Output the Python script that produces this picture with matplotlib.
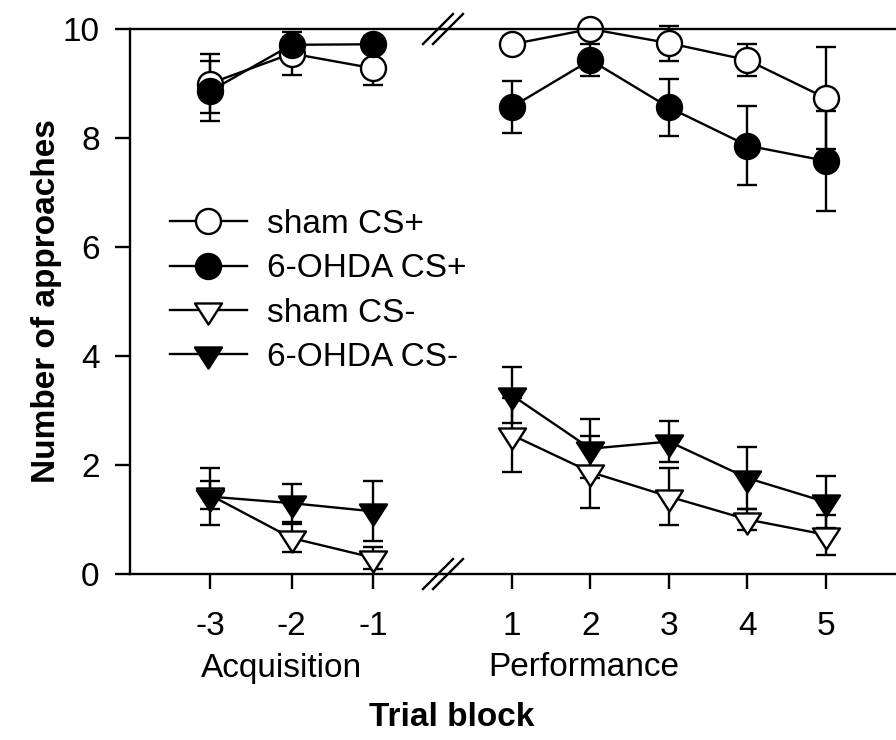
import matplotlib
matplotlib.use('Agg')
import matplotlib.pyplot as plt
from matplotlib.lines import Line2D
from matplotlib.path import Path


# 数据（从原图上读出来的）
acq_blocks = [-3, -2, -1]
perf_blocks = [1, 2, 3, 4, 5]

sham_cs_plus_acq = [9.0, 9.55, 9.28]
sham_cs_plus_acq_err = [0.54, 0.4, 0.3]
ohda_cs_plus_acq = [8.86, 9.71, 9.72]
ohda_cs_plus_acq_err = [0.55, 0.15, 0.15]
sham_cs_minus_acq = [1.45, 0.66, 0.3]
sham_cs_minus_acq_err = [0.25, 0.25, 0.2]
ohda_cs_minus_acq = [1.42, 1.3, 1.15]
ohda_cs_minus_acq_err = [0.53, 0.35, 0.55]

sham_cs_plus_perf = [9.72, 10.0, 9.74, 9.43, 8.73]
sham_cs_plus_perf_err = [0.15, 0.1, 0.32, 0.29, 0.94]
ohda_cs_plus_perf = [8.57, 9.43, 8.56, 7.86, 7.58]
ohda_cs_plus_perf_err = [0.47, 0.3, 0.52, 0.73, 0.92]
sham_cs_minus_perf = [2.55, 1.87, 1.42, 1.0, 0.72]
sham_cs_minus_perf_err = [0.68, 0.66, 0.53, 0.2, 0.37]
ohda_cs_minus_perf = [3.28, 2.3, 2.43, 1.76, 1.32]
ohda_cs_minus_perf_err = [0.51, 0.54, 0.37, 0.57, 0.48]

labels = ['sham CS+', '6-OHDA CS+', 'sham CS-', '6-OHDA CS-']
y_ticks = [0, 2, 4, 6, 8, 10]

W, H = 896, 740
FS = 24
LW = 1.7

plt.rcParams['font.family'] = ['Liberation Sans', 'DejaVu Sans']

# 倒三角，数据点放在重心上（闭合路径）
TRI = Path([(-1, 0.519), (1, 0.519), (0, -1.037), (-1, 0.519)], closed=True)


def fx(x):
    return x / W


def fy(y):
    return 1 - y / H


def style_axis(ax):
    for s in ax.spines.values():
        s.set_linewidth(LW)
    ax.tick_params(direction='out', length=10.8, width=LW, labelsize=FS)
    ax.tick_params(axis='x', pad=16)
    ax.tick_params(axis='y', pad=11)
    ax.set_ylim(0, 10)


def draw_series(ax, x, y, err, marker, face, ms):
    eb = ax.errorbar(x, y, yerr=err, marker=marker, ms=ms, mfc=face, mec='black',
                     mew=LW, color='black', lw=LW, elinewidth=LW, capsize=7.2,
                     capthick=LW, clip_on=False)
    for a in eb.lines[1] + eb.lines[2]:
        a.set_clip_on(False)
    return eb[0]


def run():
    fig = plt.figure(figsize=(W / 100, H / 100), dpi=100)
    ax1 = fig.add_axes([fx(130), fy(574), fx(443 - 130), 545 / H])
    ax2 = fig.add_axes([fx(443), fy(574), fx(896 - 443), 545 / H])

    series = [
        (sham_cs_plus_acq, sham_cs_plus_acq_err, sham_cs_plus_perf, sham_cs_plus_perf_err, 'o', 'white', 18),
        (ohda_cs_plus_acq, ohda_cs_plus_acq_err, ohda_cs_plus_perf, ohda_cs_plus_perf_err, 'o', 'black', 18),
        (sham_cs_minus_acq, sham_cs_minus_acq_err, sham_cs_minus_perf, sham_cs_minus_perf_err, TRI, 'white', 20.2),
        (ohda_cs_minus_acq, ohda_cs_minus_acq_err, ohda_cs_minus_perf, ohda_cs_minus_perf_err, TRI, 'black', 20.2),
    ]
    handles = []
    for acq, acq_err, perf, perf_err, marker, face, ms in series:
        h = draw_series(ax1, acq_blocks, acq, acq_err, marker, face, ms)
        draw_series(ax2, perf_blocks, perf, perf_err, marker, face, ms)
        handles.append(h)

    style_axis(ax1)
    style_axis(ax2)
    ax1.set_xlim(-3.982, -0.141)
    ax2.set_xlim(0.121, 5.892)
    ax1.set_xticks(acq_blocks)
    ax1.set_xticklabels([str(b) for b in acq_blocks])
    ax2.set_xticks(perf_blocks)
    ax2.set_xticklabels([str(b) for b in perf_blocks])
    ax1.set_yticks(y_ticks)
    ax1.set_yticklabels([str(t) for t in y_ticks])
    ax1.spines['right'].set_visible(False)
    ax2.spines['left'].set_visible(False)
    ax2.spines['right'].set_visible(False)
    ax2.tick_params(axis='y', left=False, labelleft=False)

    ax1.set_ylabel('Number of approaches', fontsize=FS, fontweight='bold')
    ax1.yaxis.set_label_coords((62 - 130) / 313, 0.5)

    fig.text(fx(281), fy(668), 'Acquisition', fontsize=FS, ha='center', va='center')
    fig.text(fx(584), fy(668), 'Performance', fontsize=FS, ha='center', va='center')
    fig.text(fx(452), fy(717), 'Trial block', fontsize=FS, fontweight='bold', ha='center', va='center')

    # 断轴的 // 标记
    for yc in [29, 574]:
        for xc in [438, 448]:
            fig.add_artist(Line2D([fx(xc - 15), fx(xc + 15)], [fy(yc + 15), fy(yc - 15)],
                                  transform=fig.transFigure, color='black', lw=LW))

    fig.legend(handles, labels, loc='upper left', bbox_to_anchor=(fx(170), fy(209)),
               frameon=False, fontsize=FS, borderpad=0, borderaxespad=0,
               handlelength=2.3, handletextpad=0.6, labelspacing=0.4)

    fig.savefig('out.png', dpi=100)


if __name__ == '__main__':
    run()
